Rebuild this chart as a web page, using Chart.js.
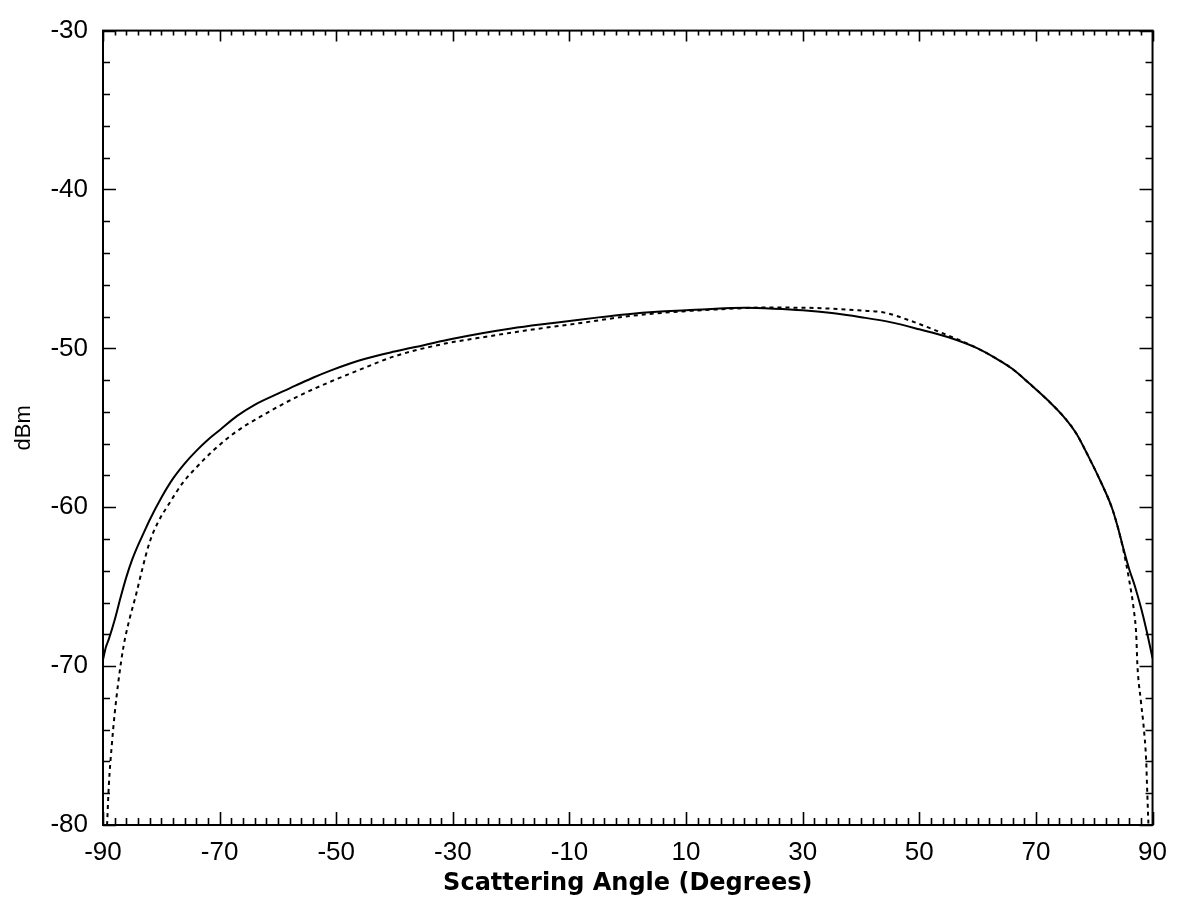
<!DOCTYPE html>
<html>
<head>
<meta charset="utf-8">
<script src="https://cdn.jsdelivr.net/npm/chart.js@4.4.1/dist/chart.umd.min.js"></script>
<style>
  html, body { margin: 0; padding: 0; background: #fff; }
  #wrap { width: 1179px; height: 899px; }
</style>
</head>
<body>
<div id="wrap"><canvas id="scatterChart"></canvas></div>
<script>
// ---------- DATA ----------
// measured pattern (solid)
const solidAngle = [-90, -89.5, -89, -88, -87, -86, -85, -84, -83, -82, -80, -78, -76, -74, -72, -70,
  -67, -64, -60, -57, -54, -51, -48, -45, -40, -35, -30, -25, -20, -15, -10, -5, 0,
  5, 10, 15, 20, 25, 30, 35, 40, 45, 50, 55, 60, 63, 66, 69, 72, 75, 77, 79, 81, 83,
  84, 85, 86, 87, 88, 89, 90];
const solidDbm = [-69.6, -68.8, -68.3, -67.1, -65.7, -64.4, -63.3, -62.4, -61.6, -60.8, -59.4, -58.2, -57.25, -56.45, -55.75, -55.15,
  -54.25, -53.55, -52.85, -52.35, -51.85, -51.4, -51.0, -50.65, -50.2, -49.8, -49.4, -49.05, -48.75, -48.5, -48.28, -48.05, -47.85,
  -47.7, -47.6, -47.5, -47.45, -47.5, -47.6, -47.78, -48.04, -48.35, -48.8, -49.3, -50.0, -50.6, -51.3, -52.25, -53.25, -54.4, -55.4, -56.8, -58.3, -60.0,
  -61.2, -62.6, -63.9, -65.0, -66.3, -67.8, -69.5];

// predicted pattern (dashed)
const dashAngle = [-89.3, -89, -88.5, -88, -87.3, -86.5, -85.5, -84.4, -83.2, -82, -80.5, -78.7, -76.4, -74, -71,
  -67, -63, -57, -51, -46, -40, -32, -24, -17, -8, 0, 9, 17, 23, 31, 40, 44, 48, 54,
  60, 63, 66, 69, 72, 75, 77, 79, 81, 83, 84, 85, 86, 86.8, 87.2, 87.4, 88, 88.5, 88.9, 89.1, 89.3];
const dashDbm = [-80, -77.5, -75.0, -73.0, -70.8, -68.8, -67.1, -65.6, -63.8, -62.2, -60.9, -59.8, -58.5, -57.5, -56.4,
  -55.2, -54.3, -53.1, -52.1, -51.35, -50.5, -49.75, -49.25, -48.85, -48.4, -47.98, -47.68, -47.52, -47.43, -47.45, -47.62, -47.75, -48.2, -49.05,
  -50.0, -50.6, -51.3, -52.25, -53.25, -54.4, -55.4, -56.8, -58.3, -60.0, -61.2, -62.7, -64.6, -66.5, -68.0, -69.9, -72.2, -73.9, -75.9, -78.0, -80];

const xTickLabels = [-90, -70, -50, -30, -10, 10, 30, 50, 70, 90];
const yTickLabels = [-30, -40, -50, -60, -70, -80];

function toPoints(xs, ys) {
  return xs.map((x, i) => ({ x: x, y: ys[i] }));
}

// ---------- FRAME + INWARD TICKS ----------
const framePlugin = {
  id: 'frameTicks',
  afterDraw(chart) {
    const ctx = chart.ctx;
    const a = chart.chartArea;
    const xs = chart.scales.x;
    const ys = chart.scales.y;
    ctx.save();
    ctx.strokeStyle = '#000';
    ctx.lineWidth = 2;
    ctx.strokeRect(a.left, a.top, a.right - a.left, a.bottom - a.top);
    ctx.lineWidth = 1.6;
    ctx.beginPath();
    xs.ticks.forEach(t => {
      const px = Math.round(xs.getPixelForValue(t.value)) + 0.5;
      const major = xTickLabels.includes(t.value);
      ctx.moveTo(px, a.bottom);
      ctx.lineTo(px, a.bottom - (major ? 13 : 7));
      ctx.moveTo(px, a.top);
      ctx.lineTo(px, a.top + (major ? 11 : 5));
    });
    ys.ticks.forEach(t => {
      const py = Math.round(ys.getPixelForValue(t.value)) + 0.5;
      const major = yTickLabels.includes(t.value);
      ctx.moveTo(a.left, py);
      ctx.lineTo(a.left + (major ? 13 : 7), py);
      ctx.moveTo(a.right, py);
      ctx.lineTo(a.right - (major ? 13 : 7), py);
    });
    ctx.stroke();
    ctx.restore();
  }
};

// ---------- CHART ----------
const ctx = document.getElementById('scatterChart').getContext('2d');
new Chart(ctx, {
  type: 'scatter',
  data: {
    datasets: [
      {
        label: 'Measured',
        data: toPoints(solidAngle, solidDbm),
        showLine: true,
        borderColor: '#000',
        borderWidth: 2,
        pointRadius: 0,
        cubicInterpolationMode: 'monotone'
      },
      {
        label: 'Predicted',
        data: toPoints(dashAngle, dashDbm),
        showLine: true,
        borderColor: '#000',
        borderWidth: 2,
        borderDash: [4, 4],
        pointRadius: 0,
        cubicInterpolationMode: 'monotone'
      }
    ]
  },
  options: {
    responsive: true,
    maintainAspectRatio: false,
    animation: false,
    layout: { padding: { top: 22, right: 24, left: 0, bottom: 0 } },
    plugins: {
      legend: { display: false },
      tooltip: { enabled: false }
    },
    scales: {
      x: {
        type: 'linear',
        min: -90,
        max: 90,
        afterFit: s => { s.height = 74; },
        grid: { display: false, drawTicks: false },
        border: { display: false },
        ticks: {
          stepSize: 2,
          autoSkip: false,
          maxRotation: 0,
          padding: 12,
          color: '#000',
          font: { family: 'Liberation Sans', size: 26 },
          callback: v => xTickLabels.includes(v) ? String(v) : ''
        },
        title: {
          display: true,
          text: 'Scattering Angle (Degrees)',
          color: '#000',
          font: { family: 'DejaVu Sans', size: 24, weight: 'bold' },
          padding: { top: 0, bottom: 1 }
        }
      },
      y: {
        type: 'linear',
        min: -80,
        max: -30,
        afterFit: s => { s.width = 103; },
        grid: { display: false, drawTicks: false },
        border: { display: false },
        ticks: {
          stepSize: 2,
          autoSkip: false,
          padding: 15,
          color: '#000',
          font: { family: 'Liberation Sans', size: 26 },
          callback: v => yTickLabels.includes(v) ? String(v) : ''
        },
        title: {
          display: true,
          text: 'dBm',
          color: '#000',
          font: { family: 'Liberation Sans', size: 22 },
          padding: { top: 11, bottom: 0 }
        }
      }
    }
  },
  plugins: [framePlugin]
});
</script>
</body>
</html>
